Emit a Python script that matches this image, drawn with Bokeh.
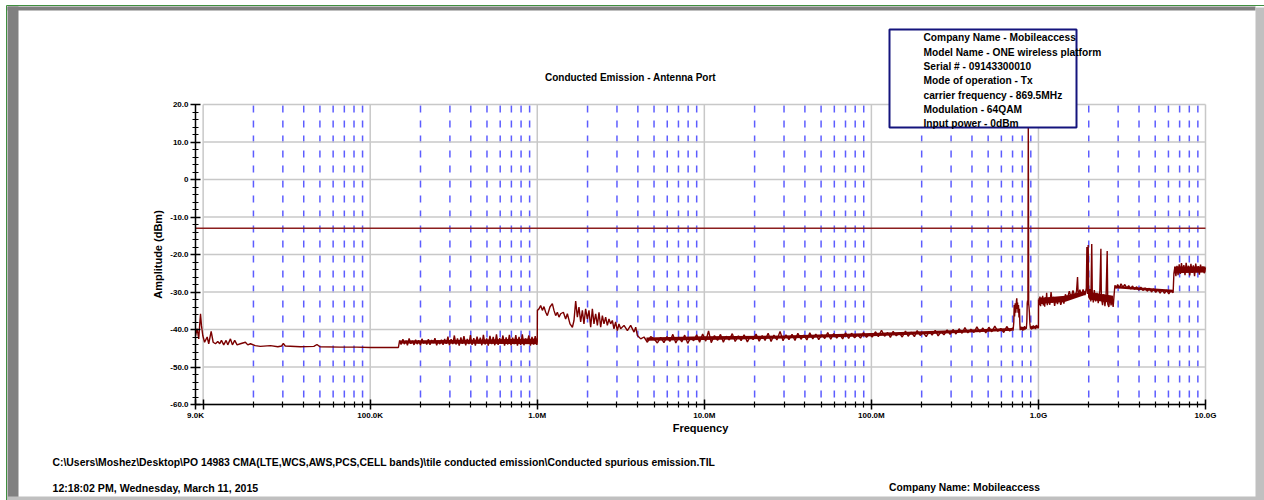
import numpy as np
from bokeh.plotting import figure
from bokeh.models import Range1d, FixedTicker, Label, BoxAnnotation
from bokeh.embed import file_html
from bokeh.resources import INLINE

# ---------------- data ----------------
title_text = "Conducted Emission - Antenna Port"
x_title = "Frequency"
y_title = "Amplitude (dBm)"

x_major_ticks = [9000, 10000, 100000, 1000000, 10000000, 100000000, 1000000000, 10000000000]
x_tick_labels = ["9.0K", "", "100.0K", "1.0M", "10.0M", "100.0M", "1.0G", "10.0G"]
y_major_ticks = [-60, -50, -40, -30, -20, -10, 0, 10, 20]
y_tick_labels = ["-60.0", "-50.0", "-40.0", "-30.0", "-20.0", "-10.0", "0", "10.0", "20.0"]
limit_dbm = -13.0

info_lines = [
    "Company Name - Mobileaccess",
    "Model Name - ONE wireless platform",
    "Serial # - 09143300010",
    "Mode of operation - Tx",
    "carrier frequency - 869.5MHz",
    "Modulation - 64QAM",
    "Input power - 0dBm",
]
file_path = r"C:\Users\Moshez\Desktop\PO 14983 CMA(LTE,WCS,AWS,PCS,CELL bands)\tile conducted emission\Conducted spurious  emission.TIL"
date_text = "12:18:02 PM, Wednesday, March 11, 2015"
company_text = "Company Name: Mobileaccess"

# measured trace: (frequency in MHz, amplitude in dBm)
seg_9k_150k = [(0.0090,-41.6),(0.00921,-39.8),(0.00941,-42.5),(0.00964,-35.8),(0.00977,-38.9),
    (0.00995,-41.6),(0.0102,-43.4),(0.01057,-42.0),(0.0108,-43.8),(0.01117,-40.5),(0.01148,-43.4),
    (0.01185,-43.8),(0.01223,-43.2),(0.01257,-43.8),(0.01287,-42.9),(0.01328,-44.1),(0.01372,-42.9),
    (0.01404,-44.1),(0.01457,-42.5),(0.01497,-44.1),(0.01545,-42.9),(0.01597,-44.1),(0.0167,-43.8),
    (0.0179,-43.4),(0.0185,-44.1),(0.0192,-43.8),(0.0205,-44.3),(0.0220,-44.5),(0.0253,-44.3),
    (0.0280,-44.6),(0.0295,-44.4),(0.0302,-43.7),(0.0310,-44.4),(0.0382,-44.6),(0.0460,-44.5),
    (0.0480,-44.0),(0.0500,-44.6),(0.0660,-44.7),(0.0830,-44.7),(0.1000,-44.8),(0.1475,-44.8)]

seg_150k_1m = [(0.150,-42.9),(0.153,-44.0),(0.157,-42.6),(0.160,-43.9),(0.164,-43.0),(0.167,-44.2),
    (0.171,-42.4),(0.175,-43.8),(0.179,-43.0),(0.183,-44.1),(0.187,-42.7),(0.191,-43.9),(0.195,-42.9),
    (0.200,-44.2),(0.204,-42.5),(0.209,-43.7),(0.214,-43.2),(0.218,-44.0),(0.223,-42.6),(0.228,-44.1),
    (0.233,-42.8),(0.239,-43.6),(0.244,-42.3),(0.250,-44.2),(0.255,-43.0),(0.261,-43.9),(0.267,-42.7),
    (0.273,-44.1),(0.279,-42.5),(0.285,-43.8),(0.292,-41.9),(0.298,-44.2),(0.305,-42.6),(0.312,-43.9),
    (0.319,-41.6),(0.326,-44.0),(0.333,-42.4),(0.341,-44.3),(0.349,-42.1),(0.356,-43.8),(0.364,-41.8),
    (0.373,-44.2),(0.381,-42.5),(0.390,-43.9),(0.398,-41.5),(0.407,-44.1),(0.417,-42.3),(0.426,-44.3),
    (0.436,-41.9),(0.446,-43.7),(0.456,-42.2),(0.466,-44.2),(0.476,-41.4),(0.487,-44.0),(0.498,-42.4),
    (0.509,-44.3),(0.521,-41.7),(0.533,-43.9),(0.545,-42.0),(0.557,-44.2),(0.570,-41.3),(0.583,-44.1),
    (0.596,-42.3),(0.609,-43.8),(0.623,-41.6),(0.637,-44.3),(0.651,-42.1),(0.666,-44.0),(0.681,-41.4),
    (0.696,-44.2),(0.712,-42.2),(0.728,-43.9),(0.744,-41.5),(0.761,-44.3),(0.778,-42.0),(0.796,-44.1),
    (0.814,-41.3),(0.832,-44.2),(0.851,-42.4),(0.870,-43.8),(0.890,-41.6),(0.910,-44.3),(0.930,-42.0),
    (0.951,-44.0),(0.972,-41.8),(0.994,-44.1),(1.000,-43.2)]

seg_1m_5m = [(1.002,-34.9),(1.024,-34.5),(1.048,-33.6),(1.073,-34.9),(1.097,-33.9),(1.123,-35.4),
    (1.149,-36.3),(1.191,-34.0),(1.231,-33.1),(1.259,-34.9),(1.289,-36.3),(1.319,-35.4),(1.349,-36.7),
    (1.381,-35.8),(1.433,-35.4),(1.479,-37.2),(1.514,-35.8),(1.570,-38.5),(1.623,-39.4),(1.659,-37.6),
    (1.698,-32.4),(1.738,-36.7),(1.777,-34.0),(1.819,-38.0),(1.862,-34.9),(1.903,-38.5),(1.948,-34.5),
    (1.994,-37.2),(2.040,-34.9),(2.088,-39.4),(2.137,-34.5),(2.185,-38.5),(2.237,-35.8),(2.290,-38.9),
    (2.342,-35.4),(2.397,-39.4),(2.453,-36.3),(2.508,-38.5),(2.567,-36.7),(2.627,-38.9),(2.687,-37.2),
    (2.750,-38.5),(2.814,-37.6),(2.878,-39.8),(2.946,-38.0),(3.015,-40.3),(3.083,-38.5),(3.156,-39.8),
    (3.306,-38.9),(3.464,-40.3),(3.624,-38.9),(3.795,-40.7),(3.884,-39.4),(3.975,-41.6),(4.162,-42.5),
    (4.357,-42.0),(4.562,-43.4),(4.776,-41.9),(5.000,-42.5),(5.235,-43.6),(5.480,-42.1)]

seg_5m_700m = [(5.73,-43.5),(5.97,-41.9),(6.22,-43.2),(6.48,-41.3),(6.75,-43.6),(7.03,-42.0),
    (7.33,-43.3),(7.63,-41.5),(7.95,-43.7),(8.29,-42.1),(8.63,-43.0),(9.00,-41.4),(9.37,-43.4),
    (9.77,-41.2),(10.2,-43.1),(10.6,-40.4),(11.0,-43.5),(11.5,-41.6),(12.0,-42.9),(12.5,-41.3),
    (13.0,-43.4),(13.5,-41.8),(14.1,-42.8),(14.7,-41.1),(15.3,-43.2),(16.0,-41.7),(16.6,-43.0),
    (17.3,-41.4),(18.1,-43.3),(18.8,-41.9),(19.6,-42.7),(20.4,-41.2),(21.3,-43.1),(22.2,-41.6),
    (23.1,-42.9),(24.1,-41.0),(25.1,-43.2),(26.1,-41.5),(27.2,-42.8),(28.4,-40.5),(29.6,-43.0),
    (30.8,-41.4),(32.1,-42.7),(33.5,-41.3),(34.9,-42.9),(36.3,-41.0),(37.9,-42.6),(39.4,-41.5),
    (41.1,-42.8),(42.8,-40.9),(44.6,-42.5),(46.5,-41.2),(48.4,-42.7),(50.5,-41.4),(52.6,-42.4),
    (54.8,-40.8),(57.1,-42.6),(59.5,-41.1),(62.0,-42.3),(64.6,-41.3),(67.3,-42.5),(70.1,-40.9),
    (73.1,-42.4),(76.1,-41.0),(79.3,-42.2),(82.7,-41.4),(86.1,-42.3),(89.7,-40.8),(93.5,-42.1),
    (97.4,-41.2),(101,-42.0),(106,-40.6),(110,-41.9),(115,-40.2),(120,-41.8),(125,-40.8),(130,-42.1),
    (135,-40.5),(141,-41.7),(147,-40.9),(153,-42.0),(160,-40.4),(166,-41.8),(173,-40.7),(181,-41.9),
    (188,-40.3),(196,-41.6),(204,-40.8),(213,-41.9),(222,-40.5),(231,-41.5),(241,-40.2),(251,-41.7),
    (261,-40.6),(272,-41.4),(284,-40.1),(296,-41.3),(308,-40.0),(321,-41.2),(335,-39.8),(349,-41.0),
    (363,-39.5),(378,-40.9),(394,-39.9),(411,-40.8),(428,-39.3),(446,-40.7),(465,-39.6),(484,-40.9),
    (505,-39.4),(526,-40.6),(548,-39.1),(571,-40.5),(595,-39.7),(620,-40.8),(646,-39.2),(673,-40.4),
    (700,-39.6)]

seg_700m_1g = [(705,-40.3),(712,-38.0),(716,-33.5),(720,-36.5),(726,-33.0),(732,-35.5),(738,-32.5),
    (742,-31.7),(746,-34.5),(750,-32.8),(755,-35.5),(760,-33.5),(765,-36.8),(770,-34.5),(774,-38.5),
    (778,-40.2),(784,-39.2),(790,-40.1),(797,-39.3),(804,-40.3),(811,-39.4),(818,-40.2),(825,-39.1),
    (832,-40.0),(839,-39.3),(846,-39.8),(852,-38.0),(857,-33.0),(861,-32.3),(865,-33.5),(869.5,16.5),
    (874,-33.0),(878,-34.0),(883,-35.5),(889,-38.5),(896,-39.8),(903,-39.2),(910,-40.0),(918,-39.0),
    (926,-39.8),(934,-38.9),(942,-39.7),(951,-39.1),(960,-39.9),(969,-38.8),(978,-39.6),(987,-39.0),
    (996,-39.7),(1000,-39.4)]

seg_1g_10g = [(1001,-32.0),(1010,-33.5),(1020,-31.2),(1030,-33.8),(1040,-31.5),(1050,-33.2),
    (1060,-31.0),(1070,-33.6),(1080,-32.0),(1090,-33.9),(1100,-31.4),(1110,-33.0),(1120,-30.2),
    (1130,-33.5),(1150,-31.6),(1170,-33.4),(1190,-30.0),(1210,-32.8),(1230,-31.3),(1250,-33.7),
    (1270,-31.8),(1300,-33.2),(1330,-31.5),(1360,-33.4),(1390,-32.0),(1420,-33.1),(1450,-30.6),
    (1490,-31.8),(1530,-29.8),(1570,-31.5),(1610,-29.6),(1650,-31.2),(1690,-29.9),(1714,-26.0),
    (1730,-30.8),(1770,-29.4),(1810,-31.0),(1850,-29.3),(1900,-30.8),(1935,-29.0),(1950,-18.0),
    (1965,-30.5),(1985,-17.5),(2000,-31.5),(2030,-29.2),(2060,-32.5),(2085,-17.2),(2100,-30.0),
    (2130,-32.8),(2160,-29.5),(2200,-32.5),(2240,-30.2),(2280,-33.0),(2330,-29.8),(2365,-18.5),
    (2380,-31.5),(2420,-33.5),(2460,-30.6),(2500,-33.8),(2540,-30.9),(2580,-19.1),(2600,-33.2),
    (2640,-34.0),(2680,-31.0),(2720,-33.6),(2760,-32.0),(2800,-34.0),(2840,-30.5),(2870,-28.2),
    (2920,-29.0),(2980,-28.0),(3050,-28.9),(3120,-27.8),(3200,-28.7),(3290,-28.0),(3380,-29.0),
    (3470,-28.3),(3560,-29.2),(3660,-28.4),(3760,-29.3),(3870,-28.6),(3980,-29.5),(4100,-28.7),
    (4220,-29.6),(4350,-28.9),(4480,-29.8),(4610,-29.0),(4750,-30.0),(4890,-29.2),(5040,-30.1),
    (5190,-29.3),(5350,-30.3),(5510,-29.4),(5680,-30.4),(5850,-29.5),(6030,-30.5),(6210,-29.6),
    (6400,-30.2),(6470,-25.0),(6550,-23.5),(6650,-25.8),(6750,-23.0),(6850,-25.5),(6960,-22.6),
    (7070,-25.2),(7180,-22.3),(7300,-24.8),(7420,-22.8),(7540,-25.5),(7660,-22.2),(7790,-24.6),
    (7920,-23.0),(8050,-25.6),(8180,-22.5),(8320,-24.9),(8460,-22.9),(8600,-25.8),(8740,-22.4),
    (8890,-24.7),(9040,-23.1),(9190,-25.4),(9340,-22.7),(9500,-24.6),(9660,-23.2),(9820,-25.0),
    (10000,-23.5)]

# dense core of the noisy bands: (frequency MHz, low dBm, high dBm)
band_150k_1m = [(0.150,-43.7,-42.9),(0.40,-43.8,-42.7),(1.000,-43.9,-42.4)]
band_4m_700m = [(4.5,-43.0,-42.1),(10,-42.8,-41.8),(30,-42.4,-41.6),(100,-41.8,-40.9),
                (300,-41.0,-40.2),(700,-40.3,-39.6)]
band_780m_1g = [(780,-40.0,-39.4),(850,-39.8,-39.3)]
band_900m_1g = [(900,-39.7,-39.2),(1000,-39.6,-39.0)]
band_1g_2g = [(1001,-33.2,-31.6),(1450,-32.6,-31.0),(1900,-30.8,-29.7)]
band_2g_2p8g = [(2000,-32.0,-30.0),(2800,-33.0,-31.0)]
band_2p9g_6p4g = [(2880,-29.0,-28.3),(6400,-30.1,-29.4)]
band_6p5g_10g = [(6480,-25.0,-23.2),(10000,-24.8,-23.2)]

# ---------------- layout (canvas pixels) ----------------
W, H = 1264, 500
FRAME_L, FRAME_R, FRAME_T, FRAME_B = 195, 1205, 104, 404   # where the data area sits
X0, X1, Y0, Y1 = 9000, 10000000000, -60, 20
FONT = "Liberation Sans"
TRACE = "#7b0000"

LX0, LX1 = np.log10(X0), np.log10(X1)
PPD = (FRAME_R - FRAME_L) / (LX1 - LX0)      # px per decade
PPU = (FRAME_B - FRAME_T) / (Y1 - Y0)        # px per dB

def px_x(px):
    return float(10 ** (LX0 + (px - FRAME_L) / PPD))

def px_y(py):
    return float(Y1 - (py - FRAME_T) / PPU)

segments = [seg_9k_150k, seg_150k_1m, seg_1m_5m, seg_5m_700m, seg_700m_1g, seg_1g_10g]
pts = [pt for seg in segments for pt in seg]
freq_hz = [f * 1e6 for f, a in pts]
amp_dbm = [a for f, a in pts]

p = figure(width=W, height=H, x_axis_type="log",
           x_range=Range1d(px_x(0), px_x(W)), y_range=Range1d(px_y(H), px_y(0)),
           output_backend="svg", toolbar_location=None,
           min_border=0, min_border_left=0, min_border_right=0,
           min_border_top=0, min_border_bottom=0)
p.outline_line_color = None
p.background_fill_color = "white"
p.border_fill_color = "white"
p.xgrid.visible = False
p.ygrid.visible = False

# window-like frame around the page
p.segment(x0=px_x(6), x1=px_x(W), y0=px_y(5), y1=px_y(5), line_color="#3f8f3f", line_width=1)
p.segment(x0=px_x(6), x1=px_x(6), y0=px_y(5), y1=px_y(H), line_color="#3f8f3f", line_width=1)
p.quad(left=[px_x(7), px_x(7), px_x(1255), px_x(7)],
       right=[px_x(1255), px_x(18), px_x(W), px_x(W)],
       top=[px_y(6), px_y(6), px_y(7), px_y(496)],
       bottom=[px_y(10), px_y(H), px_y(H), px_y(H)],
       fill_color=["#808080", "#808080", "#c0c0c0", "#c0c0c0"], line_color=None)

# grid
x_decades = x_major_ticks[1:]
x_minor = [m * 10 ** e for e in range(4, 10) for m in range(2, 10)]
p.segment(x0=x_minor, x1=x_minor, y0=Y1, y1=Y0, line_color="#3535ff", line_alpha=0.8,
          line_width=1.5, line_dash="7 8", line_dash_offset=14)
p.segment(x0=x_decades, x1=x_decades, y0=Y0, y1=Y1, line_color="#c8c8c8", line_width=1.5)
p.segment(x0=x_decades[0], x1=x_decades[-1], y0=y_major_ticks, y1=y_major_ticks,
          line_color="#c8c8c8", line_width=1.5)

# limit line
p.segment(x0=X0, x1=X1, y0=limit_dbm, y1=limit_dbm, line_color="#8b1e1e", line_width=1.5)

# spectrum trace: dense band cores, then the trace itself
for band in (band_150k_1m, band_4m_700m, band_780m_1g, band_900m_1g, band_1g_2g,
             band_2g_2p8g, band_2p9g_6p4g, band_6p5g_10g):
    p.varea(x=[f * 1e6 for f, lo, hi in band], y1=[lo for f, lo, hi in band],
            y2=[hi for f, lo, hi in band], fill_color=TRACE, fill_alpha=1)
p.line(freq_hz, amp_dbm, line_color=TRACE, line_width=1.4)

# axes fixed at the data-area edges
p.xaxis.fixed_location = Y0
p.yaxis.fixed_location = X0
p.xaxis.bounds = (X0, X1)
p.yaxis.bounds = (Y0, Y1)
p.xaxis.ticker = FixedTicker(ticks=x_major_ticks, minor_ticks=x_minor)
p.yaxis.ticker = FixedTicker(ticks=y_major_ticks, minor_ticks=list(range(-60, 21, 2)))
p.xaxis.major_label_overrides = dict(zip(x_major_ticks, x_tick_labels))
p.yaxis.major_label_overrides = dict(zip(y_major_ticks, y_tick_labels))
for ax in (p.xaxis[0], p.yaxis[0]):
    ax.axis_line_color = "black"
    ax.axis_line_width = 1.5
    ax.major_tick_line_color = "black"
    ax.major_tick_line_width = 1.5
    ax.minor_tick_line_color = "black"
    ax.minor_tick_line_width = 1.2
    ax.major_tick_in = 5
    ax.major_tick_out = 5
    ax.minor_tick_in = 3
    ax.minor_tick_out = 3
    ax.major_label_text_font = FONT
    ax.major_label_text_font_style = "bold"
    ax.major_label_text_font_size = "8px"
    ax.major_label_text_color = "black"
p.xaxis.major_label_standoff = 1
p.yaxis.major_label_standoff = 2

# info box
p.add_layout(BoxAnnotation(left=px_x(889), right=px_x(1076), top=px_y(29), bottom=px_y(127),
                           fill_color="white", fill_alpha=1, line_color="#14147d",
                           line_alpha=1, line_width=2))

def add_text(px, py, text, size="10px", align="left", angle=0.0):
    p.add_layout(Label(x=px_x(px), y=px_y(py), text=text, text_font=FONT,
                       text_font_style="bold", text_font_size=size, text_color="black",
                       text_align=align, text_baseline="middle", angle=angle))

add_text(630, 77, title_text, align="center")
add_text(700, 427, x_title, size="11px", align="center")
add_text(157, 254, y_title, size="11px", align="center", angle=np.pi / 2)
for i, line in enumerate(info_lines):
    add_text(923, 37.3 + i * 14.33, line, size="10.2px")
add_text(52, 462, file_path, size="10.4px")
add_text(52, 487, date_text, size="10.6px")
add_text(888.5, 487, company_text, size="10.3px")

open("out.html", "w").write(file_html(p, INLINE))
